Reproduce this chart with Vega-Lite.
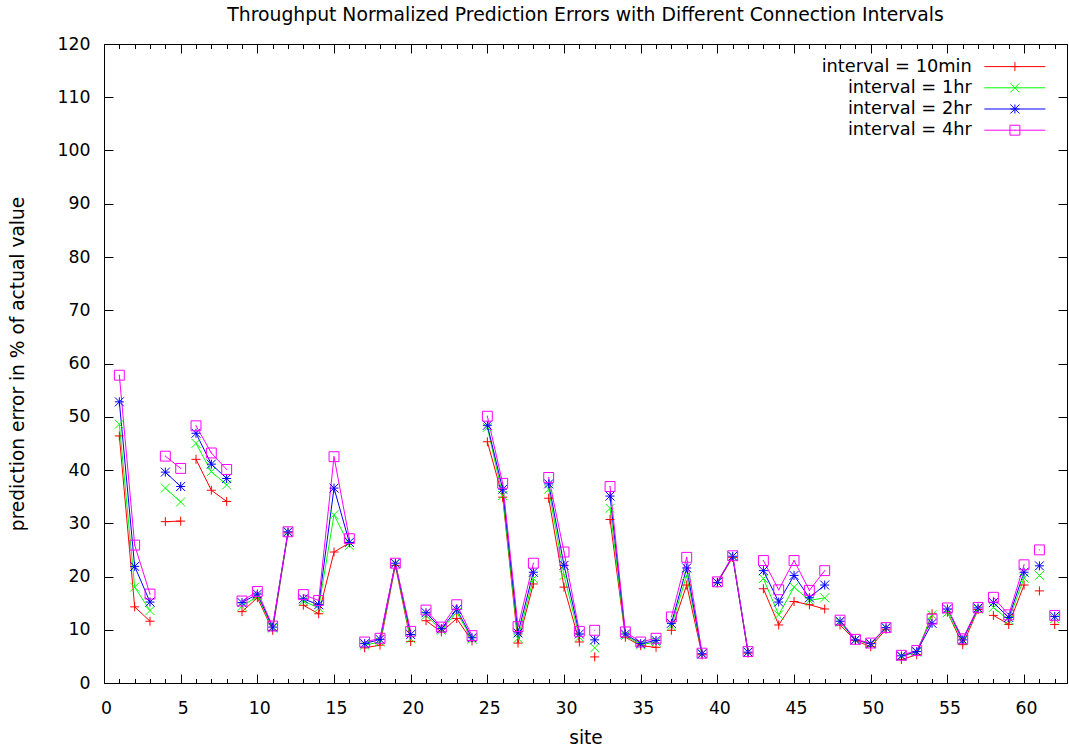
{
  "$schema": "https://vega.github.io/schema/vega-lite/v6.json",
  "width": 963,
  "height": 639,
  "autosize": {"type": "none"},
  "padding": {"left": 104, "top": 44, "right": 2, "bottom": 68},
  "background": "white",
  "title": {
    "text": "Throughput Normalized Prediction Errors with Different Connection Intervals",
    "font": "DejaVu Sans",
    "fontSize": 18.8,
    "fontWeight": "normal",
    "color": "black",
    "anchor": "middle",
    "offset": 10.5
  },
  "config": {
    "view": {"stroke": "black", "strokeWidth": 1},
    "font": "DejaVu Sans",
    "axis": {
      "labelFont": "DejaVu Sans",
      "labelFontSize": 17.3,
      "labelColor": "black",
      "titleFont": "DejaVu Sans",
      "titleFontSize": 18.6,
      "titleFontWeight": "normal",
      "titleColor": "black",
      "domainColor": "black",
      "domainWidth": 1,
      "tickColor": "black",
      "tickWidth": 1,
      "grid": false,
      "labelFlush": false,
      "labelOverlap": false
    },
    "legend": {
      "labelFont": "DejaVu Sans",
      "labelFontSize": 17.8,
      "labelColor": "black"
    }
  },
  "data": {
    "values": [
      {"site": 1, "g": 1, "10min": 46.4, "1hr": 48.6, "2hr": 52.8, "4hr": 57.8},
      {"site": 2, "g": 1, "10min": 14.3, "1hr": 18.0, "2hr": 21.9, "4hr": 25.9},
      {"site": 3, "g": 1, "10min": 11.6, "1hr": 13.6, "2hr": 15.2, "4hr": 16.7},
      {"site": 4, "g": 2, "10min": 30.3, "1hr": 36.6, "2hr": 39.6, "4hr": 42.6},
      {"site": 5, "g": 2, "10min": 30.4, "1hr": 34.0, "2hr": 36.9, "4hr": 40.3},
      {"site": 6, "g": 3, "10min": 42.0, "1hr": 45.0, "2hr": 46.9, "4hr": 48.3},
      {"site": 7, "g": 3, "10min": 36.2, "1hr": 39.7, "2hr": 41.1, "4hr": 43.2},
      {"site": 8, "g": 3, "10min": 34.1, "1hr": 37.2, "2hr": 38.4, "4hr": 40.1},
      {"site": 9, "g": 4, "10min": 13.4, "1hr": 14.4, "2hr": 15.1, "4hr": 15.4},
      {"site": 10, "g": 4, "10min": 16.0, "1hr": 16.3, "2hr": 16.7, "4hr": 17.2},
      {"site": 11, "g": 4, "10min": 9.9, "1hr": 10.3, "2hr": 10.5, "4hr": 10.7},
      {"site": 12, "g": 4, "10min": 28.2, "1hr": 28.3, "2hr": 28.4, "4hr": 28.4},
      {"site": 13, "g": 5, "10min": 14.6, "1hr": 15.4, "2hr": 15.8, "4hr": 16.6},
      {"site": 14, "g": 5, "10min": 13.0, "1hr": 14.1, "2hr": 14.7, "4hr": 15.5},
      {"site": 15, "g": 5, "10min": 24.6, "1hr": 31.6, "2hr": 36.6, "4hr": 42.5},
      {"site": 16, "g": 5, "10min": 26.3, "1hr": 25.8, "2hr": 26.4, "4hr": 27.1},
      {"site": 17, "g": 6, "10min": 6.6, "1hr": 7.1, "2hr": 7.4, "4hr": 7.7},
      {"site": 18, "g": 6, "10min": 7.1, "1hr": 7.7, "2hr": 8.2, "4hr": 8.4},
      {"site": 19, "g": 6, "10min": 22.1, "1hr": 22.4, "2hr": 22.5, "4hr": 22.5},
      {"site": 20, "g": 6, "10min": 7.8, "1hr": 8.3, "2hr": 9.1, "4hr": 9.7},
      {"site": 21, "g": 7, "10min": 11.7, "1hr": 12.7, "2hr": 13.2, "4hr": 13.7},
      {"site": 22, "g": 7, "10min": 9.6, "1hr": 9.9, "2hr": 10.2, "4hr": 10.5},
      {"site": 23, "g": 7, "10min": 12.1, "1hr": 13.3, "2hr": 13.8, "4hr": 14.7},
      {"site": 24, "g": 7, "10min": 7.9, "1hr": 8.2, "2hr": 8.5, "4hr": 8.9},
      {"site": 25, "g": 8, "10min": 45.3, "1hr": 48.0, "2hr": 48.4, "4hr": 50.1},
      {"site": 26, "g": 8, "10min": 34.9, "1hr": 35.2, "2hr": 36.4, "4hr": 37.5},
      {"site": 27, "g": 8, "10min": 7.5, "1hr": 8.4, "2hr": 9.4, "4hr": 10.6},
      {"site": 28, "g": 8, "10min": 18.6, "1hr": 19.6, "2hr": 20.8, "4hr": 22.5},
      {"site": 29, "g": 9, "10min": 34.7, "1hr": 36.4, "2hr": 37.4, "4hr": 38.6},
      {"site": 30, "g": 9, "10min": 18.0, "1hr": 20.2, "2hr": 22.1, "4hr": 24.6},
      {"site": 31, "g": 9, "10min": 7.7, "1hr": 8.6, "2hr": 9.2, "4hr": 9.7},
      {"site": 32, "g": 10, "10min": 4.9, "1hr": 6.6, "2hr": 8.1, "4hr": 9.9},
      {"site": 33, "g": 11, "10min": 30.7, "1hr": 32.8, "2hr": 35.1, "4hr": 36.9},
      {"site": 34, "g": 11, "10min": 8.6, "1hr": 8.9, "2hr": 9.2, "4hr": 9.6},
      {"site": 35, "g": 11, "10min": 7.0, "1hr": 7.2, "2hr": 7.4, "4hr": 7.7},
      {"site": 36, "g": 11, "10min": 6.7, "1hr": 7.7, "2hr": 8.0, "4hr": 8.4},
      {"site": 37, "g": 12, "10min": 9.9, "1hr": 10.7, "2hr": 11.2, "4hr": 12.4},
      {"site": 38, "g": 12, "10min": 18.4, "1hr": 20.2, "2hr": 21.6, "4hr": 23.6},
      {"site": 39, "g": 12, "10min": 5.3, "1hr": 5.5, "2hr": 5.5, "4hr": 5.6},
      {"site": 40, "g": 13, "10min": 18.8, "1hr": 18.9, "2hr": 18.9, "4hr": 19.0},
      {"site": 41, "g": 13, "10min": 23.6, "1hr": 23.8, "2hr": 23.8, "4hr": 23.9},
      {"site": 42, "g": 13, "10min": 5.6, "1hr": 5.8, "2hr": 5.8, "4hr": 5.9},
      {"site": 43, "g": 14, "10min": 17.7, "1hr": 19.6, "2hr": 21.1, "4hr": 23.0},
      {"site": 44, "g": 14, "10min": 10.9, "1hr": 12.8, "2hr": 15.2, "4hr": 17.5},
      {"site": 45, "g": 14, "10min": 15.3, "1hr": 18.0, "2hr": 20.2, "4hr": 23.0},
      {"site": 46, "g": 14, "10min": 14.7, "1hr": 15.5, "2hr": 16.0, "4hr": 17.4},
      {"site": 47, "g": 14, "10min": 13.9, "1hr": 16.0, "2hr": 18.4, "4hr": 21.1},
      {"site": 48, "g": 15, "10min": 10.9, "1hr": 11.4, "2hr": 11.6, "4hr": 11.8},
      {"site": 49, "g": 15, "10min": 8.0, "1hr": 8.1, "2hr": 8.1, "4hr": 8.2},
      {"site": 50, "g": 15, "10min": 6.8, "1hr": 7.3, "2hr": 7.4, "4hr": 7.5},
      {"site": 51, "g": 15, "10min": 10.1, "1hr": 10.3, "2hr": 10.4, "4hr": 10.4},
      {"site": 52, "g": 16, "10min": 4.4, "1hr": 5.0, "2hr": 5.1, "4hr": 5.2},
      {"site": 53, "g": 16, "10min": 5.3, "1hr": 5.8, "2hr": 5.9, "4hr": 6.1},
      {"site": 54, "g": 16, "10min": 13.0, "1hr": 12.8, "2hr": 11.2, "4hr": 12.0},
      {"site": 55, "g": 17, "10min": 13.3, "1hr": 13.2, "2hr": 13.9, "4hr": 14.1},
      {"site": 56, "g": 17, "10min": 7.2, "1hr": 8.0, "2hr": 8.1, "4hr": 8.3},
      {"site": 57, "g": 17, "10min": 13.8, "1hr": 13.9, "2hr": 14.1, "4hr": 14.2},
      {"site": 58, "g": 18, "10min": 12.7, "1hr": 14.2, "2hr": 15.1, "4hr": 16.1},
      {"site": 59, "g": 18, "10min": 11.0, "1hr": 11.8, "2hr": 12.3, "4hr": 12.8},
      {"site": 60, "g": 18, "10min": 18.4, "1hr": 19.7, "2hr": 20.8, "4hr": 22.2},
      {"site": 61, "g": 19, "10min": 17.3, "1hr": 20.2, "2hr": 22.0, "4hr": 25.0},
      {"site": 62, "g": 20, "10min": 11.0, "1hr": 12.1, "2hr": 12.5, "4hr": 12.7}
    ]
  },
  "transform": [
    {"fold": ["10min", "1hr", "2hr", "4hr"], "as": ["series", "value"]}
  ],
  "layer": [
    {
      "mark": {"type": "line", "strokeWidth": 1, "clip": true},
      "encoding": {
        "x": {
          "field": "site",
          "type": "quantitative",
          "scale": {"domain": [0, 62.8], "nice": false, "zero": false},
          "axis": {
            "orient": "bottom",
            "title": "site",
            "values": [0,1,2,3,4,5,6,7,8,9,10,11,12,13,14,15,16,17,18,19,20,21,22,23,24,25,26,27,28,29,30,31,32,33,34,35,36,37,38,39,40,41,42,43,44,45,46,47,48,49,50,51,52,53,54,55,56,57,58,59,60,61,62],
            "labelExpr": "datum.value % 5 === 0 ? datum.label : ''",
            "tickSize": {"condition": {"test": "datum.value % 5 === 0", "value": -9}, "value": -4.5},
            "labelPadding": 25,
            "labelOffset": 2,
            "titleX": 481.5,
            "titleY": 54.5,
            "titleBaseline": "middle",
            "titleAlign": "center"
          }
        },
        "y": {
          "field": "value",
          "type": "quantitative",
          "scale": {"domain": [0, 120], "nice": false},
          "axis": {
            "orient": "left",
            "title": "prediction error in % of actual value",
            "values": [0,10,20,30,40,50,60,70,80,90,100,110,120],
            "tickSize": -9,
            "labelPadding": 23,
            "titleX": -87,
            "titleY": 319.5,
            "titleAngle": -90,
            "titleBaseline": "middle",
            "titleAlign": "center"
          }
        },
        "stroke": {
          "field": "series",
          "type": "nominal",
          "scale": {"domain": ["10min", "1hr", "2hr", "4hr"], "range": ["#ff0000", "#00ff00", "#0000ff", "#ff00ff"]},
          "legend": {
            "orient": "none",
            "legendX": 902,
            "legendY": 13.7,
            "title": null,
            "padding": 0,
            "labelAlign": "right",
            "labelOffset": -52,
            "labelExpr": "'interval = ' + datum.label",
            "symbolType": "M-6.78,0H6.78",
            "symbolSize": 81,
            "symbolStrokeWidth": 1,
            "rowPadding": 2.2
          }
        },
        "detail": {"field": "g", "type": "nominal"}
      }
    },
    {
      "mark": {"type": "point", "filled": false, "strokeWidth": 1, "size": 81, "opacity": 1, "clip": true},
      "encoding": {
        "x": {
          "field": "site",
          "type": "quantitative",
          "axis": {
            "orient": "top",
            "title": null,
            "labels": false,
            "values": [0,1,2,3,4,5,6,7,8,9,10,11,12,13,14,15,16,17,18,19,20,21,22,23,24,25,26,27,28,29,30,31,32,33,34,35,36,37,38,39,40,41,42,43,44,45,46,47,48,49,50,51,52,53,54,55,56,57,58,59,60,61,62],
            "tickSize": {"condition": {"test": "datum.value % 5 === 0", "value": -9}, "value": -4.5}
          }
        },
        "y": {
          "field": "value",
          "type": "quantitative",
          "axis": {
            "orient": "right",
            "title": null,
            "labels": false,
            "values": [0,10,20,30,40,50,60,70,80,90,100,110,120],
            "tickSize": -9
          }
        },
        "color": {
          "field": "series",
          "type": "nominal",
          "scale": {"range": ["#ff0000", "#00ff00", "#0000ff", "#ff00ff"]},
          "legend": {
            "orient": "none",
            "legendX": 902,
            "legendY": 13.7,
            "title": null,
            "padding": 0,
            "labelAlign": "right",
            "labelOffset": -52,
            "labelOpacity": 0,
            "labelExpr": "'interval = ' + datum.label",
            "symbolSize": 81,
            "symbolStrokeWidth": 1,
            "rowPadding": 2.2
          }
        },
        "shape": {
          "field": "series",
          "type": "nominal",
          "scale": {"range": ["M-1,0H1M0,-1V1", "M-1,-1L1,1M-1,1L1,-1", "M-1,0H1M0,-1V1M-1,-1L1,1M-1,1L1,-1", "M-1.1,-1.1H1.1V1.1H-1.1ZM-0.12,0H0.12"]},
          "legend": {
            "orient": "none",
            "legendX": 902,
            "legendY": 13.7,
            "title": null,
            "padding": 0,
            "labelAlign": "right",
            "labelOffset": -52,
            "labelOpacity": 0,
            "labelExpr": "'interval = ' + datum.label",
            "symbolSize": 81,
            "symbolStrokeWidth": 1,
            "rowPadding": 2.2
          }
        }
      }
    }
  ],
  "resolve": {"axis": {"x": "independent", "y": "independent"}}
}
